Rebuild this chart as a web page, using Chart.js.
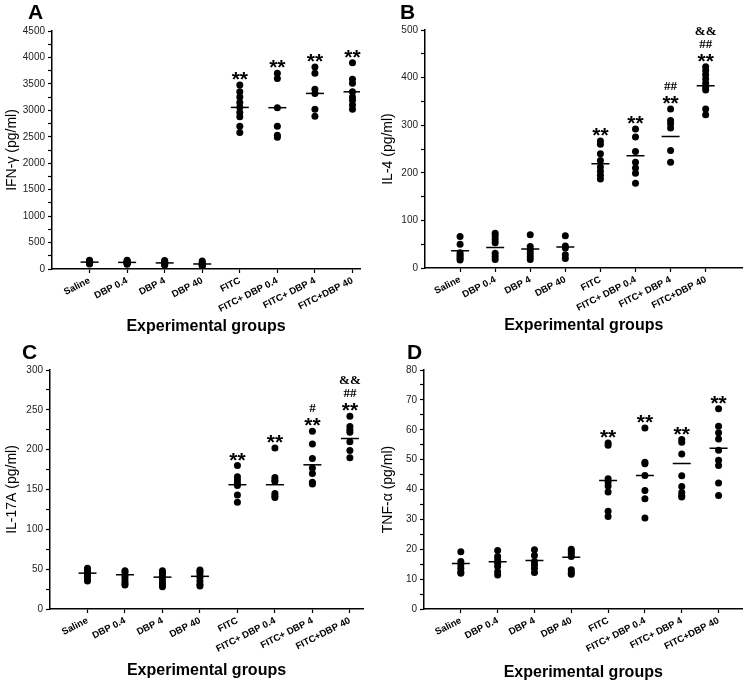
<!DOCTYPE html>
<html>
<head>
<meta charset="utf-8">
<script src="https://cdn.jsdelivr.net/npm/chart.js@4.4.1/dist/chart.umd.min.js"></script>
<style>
body { margin: 0; background: #fff; width: 753px; height: 687px; position: relative; overflow: hidden; }
.panel { position: absolute; }
.letter { position: absolute; font: bold 21px "Liberation Sans", Arial, sans-serif; line-height: 20px; color: #000; }
</style>
</head>
<body>
<div class="panel" style="left:0;top:0"><canvas id="cA" width="376" height="343"></canvas></div>
<div class="panel" style="left:376px;top:0"><canvas id="cB" width="377" height="343"></canvas></div>
<div class="panel" style="left:0;top:343px"><canvas id="cC" width="376" height="344"></canvas></div>
<div class="panel" style="left:376px;top:343px"><canvas id="cD" width="377" height="344"></canvas></div>
<div class="letter" style="left:28px;top:2px">A</div>
<div class="letter" style="left:400px;top:2px">B</div>
<div class="letter" style="left:22px;top:342px">C</div>
<div class="letter" style="left:407px;top:342px">D</div>
<script>
var groups = ['Saline', 'DBP 0.4', 'DBP 4', 'DBP 40', 'FITC', 'FITC+ DBP 0.4', 'FITC+ DBP 4', 'FITC+DBP 40'];

// IFN-gamma (pg/ml), one list per group
var ifnValues = [
    [165, 150, 140, 130, 120, 110, 95],
    [165, 150, 135, 125, 115, 100, 90],
    [160, 140, 125, 110, 100, 85, 75],
    [150, 125, 105, 90, 75, 65, 55],
    [3480, 3350, 3250, 3150, 3060, 2960, 2880, 2700, 2580],
    [3700, 3600, 3050, 2700, 2530, 2490],
    [3820, 3700, 3400, 3320, 3020, 2890],
    [3900, 3590, 3510, 3350, 3250, 3190, 3100, 3020]
];
var ifnMeans = [130, 125, 115, 95, 3055, 3050, 3320, 3350];
var ifnMarks = [[], [], [], [], ['**'], ['**'], ['**'], ['**']];

// IL-4 (pg/ml)
var il4Values = [
    [66, 50, 32, 28, 24, 20, 17],
    [73, 67, 60, 53, 31, 24, 18],
    [70, 45, 38, 31, 24, 18],
    [68, 46, 42, 28, 20],
    [267, 260, 240, 226, 212, 203, 195, 187],
    [292, 275, 245, 222, 210, 199, 178],
    [334, 310, 303, 294, 247, 222],
    [423, 415, 406, 397, 388, 380, 374, 334, 322]
];
var il4Means = [36, 43, 40, 44, 219, 236, 276, 383];
var il4Marks = [[], [], [], [], ['**'], ['**'], ['##', '**'], ['&&', '##', '**']];

// IL-17A (pg/ml)
var il17Values = [
    [51, 48, 46, 44, 41, 38, 35],
    [48, 46, 42, 39, 35, 32, 30],
    [48, 45, 41, 37, 33, 30, 28],
    [49, 47, 44, 40, 35, 31, 29],
    [180, 166, 162, 158, 155, 143, 134],
    [202, 165, 162, 160, 145, 142, 140],
    [223, 207, 189, 177, 170, 159, 157],
    [242, 229, 225, 222, 210, 199, 190]
];
var il17Means = [45, 43, 40, 41, 156, 156, 181, 214];
var il17Marks = [[], [], [], [], ['**'], ['**'], ['#', '**'], ['&&', '##', '**']];

// TNF-alpha (pg/ml)
var tnfValues = [
    [19.2, 15.9, 14.8, 13.6, 12.5, 12],
    [19.6, 17.6, 16.4, 15.3, 14.2, 12.5, 11.4],
    [19.8, 17.9, 15.9, 14.8, 13.6, 12.2],
    [20, 19.2, 18.5, 17.6, 13.1, 12.2, 11.6],
    [55.6, 54.8, 43.6, 42.5, 41.2, 39.2, 32.7, 31],
    [60.6, 49.1, 48.6, 44.7, 39.7, 36.9, 30.5],
    [56.7, 55.8, 51.9, 44.6, 41, 39, 37.9, 37.5],
    [67, 61.2, 59, 56.9, 53.1, 49.8, 48, 42.2, 38]
];
var tnfMeans = [15.2, 15.8, 16.2, 17.3, 43, 44.7, 48.7, 53.8];
var tnfMarks = [[], [], [], [], ['**'], ['**'], ['**'], ['**']];

var sans = '"Liberation Sans", Arial, sans-serif';

function drawPanel(id, values, means, marks, yMax, yStep, yTitle, xMax, box) {
    var points = [];
    values.forEach(function (arr, i) {
        arr.forEach(function (v) { points.push({ x: i + 1, y: v }); });
    });
    var meanPoints = means.map(function (m, i) { return { x: i + 1, y: m }; });

    var marksPlugin = {
        id: 'marks' + id,
        afterDatasetsDraw: function (chart) {
            var ctx = chart.ctx, x = chart.scales.x, y = chart.scales.y;
            ctx.save();
            ctx.fillStyle = '#000';
            ctx.textAlign = 'center';
            ctx.textBaseline = 'alphabetic';
            marks.forEach(function (lines, i) {
                if (!lines.length) return;
                var px = x.getPixelForValue(i + 1);
                var base = y.getPixelForValue(Math.max.apply(null, values[i])) + 1;
                for (var k = lines.length - 1; k >= 0; k--) {
                    if (lines[k] === '**') {
                        ctx.font = 'bold 21px ' + sans;
                        ctx.fillText(lines[k], px, base);
                        base -= 20;
                    } else {
                        ctx.font = 'bold 13px "Liberation Serif", "Times New Roman", serif';
                        ctx.fillText(lines[k], px, base);
                        base -= 13;
                    }
                }
            });
            ctx.restore();
        }
    };

    new Chart(document.getElementById(id).getContext('2d'), {
        type: 'scatter',
        data: {
            datasets: [{
                data: points,
                pointRadius: 3.5,
                pointBackgroundColor: '#000',
                pointBorderColor: '#000',
                pointBorderWidth: 0
            }, {
                data: meanPoints,
                pointStyle: 'line',
                pointRadius: 9,
                pointBorderWidth: 1.5,
                pointBorderColor: '#000'
            }]
        },
        options: {
            responsive: false,
            animation: false,
            layout: { padding: { left: 0, top: box.top, right: box.w - box.right, bottom: 0 } },
            plugins: { legend: { display: false }, tooltip: { enabled: false } },
            scales: {
                x: {
                    type: 'linear',
                    min: 0,
                    max: xMax,
                    afterBuildTicks: function (s) {
                        s.ticks = s.ticks.filter(function (t) { return t.value >= 1 && t.value <= 8; });
                    },
                    afterFit: function (s) { s.height = box.h - box.bottom; },
                    ticks: {
                        stepSize: 1,
                        includeBounds: false,
                        autoSkip: false,
                        minRotation: 27,
                        maxRotation: 27,
                        padding: 2,
                        color: '#000',
                        font: { family: sans, size: 9.5, weight: 'bold' },
                        callback: function (v) { return groups[v - 1]; }
                    },
                    grid: { drawOnChartArea: false, tickLength: 4, tickColor: '#000', tickWidth: 1.2 },
                    border: { color: '#000', width: 1.5 },
                    title: {
                        display: true,
                        text: 'Experimental groups',
                        color: '#000',
                        font: { family: sans, size: 16, weight: 'bold' },
                        padding: { top: 0, bottom: box.xTitle }
                    }
                },
                y: {
                    min: 0,
                    max: yMax,
                    afterFit: function (s) { s.width = box.left; },
                    ticks: {
                        stepSize: yStep / 2,
                        autoSkip: false,
                        padding: 3,
                        color: '#222',
                        font: { family: sans, size: 10 },
                        callback: function (v) { return v % yStep === 0 ? v : ''; }
                    },
                    grid: { drawOnChartArea: false, tickLength: 4, tickColor: '#000', tickWidth: 1.2 },
                    border: { color: '#000', width: 1.5 },
                    title: {
                        display: true,
                        text: yTitle,
                        color: '#000',
                        font: { family: sans, size: 14 },
                        padding: { top: 4, bottom: 0 }
                    }
                }
            }
        },
        plugins: [marksPlugin]
    });
}

drawPanel('cA', ifnValues, ifnMeans, ifnMarks, 4500, 500, 'IFN-\u03b3 (pg/ml)', 8.2,
    { left: 52, top: 31, right: 360, bottom: 269, w: 376, h: 343, xTitle: 7 });
drawPanel('cB', il4Values, il4Means, il4Marks, 500, 100, 'IL-4 (pg/ml)', 9.05,
    { left: 49, top: 30, right: 376, bottom: 268, w: 377, h: 343, xTitle: 8 });
drawPanel('cC', il17Values, il17Means, il17Marks, 300, 50, 'IL-17A (pg/ml)', 8.35,
    { left: 50, top: 27, right: 363, bottom: 266, w: 376, h: 344, xTitle: 7 });
drawPanel('cD', tnfValues, tnfMeans, tnfMarks, 80, 10, 'TNF-\u03b1 (pg/ml)', 8.65,
    { left: 48, top: 27, right: 372, bottom: 266, w: 377, h: 344, xTitle: 5 });
</script>
</body>
</html>
